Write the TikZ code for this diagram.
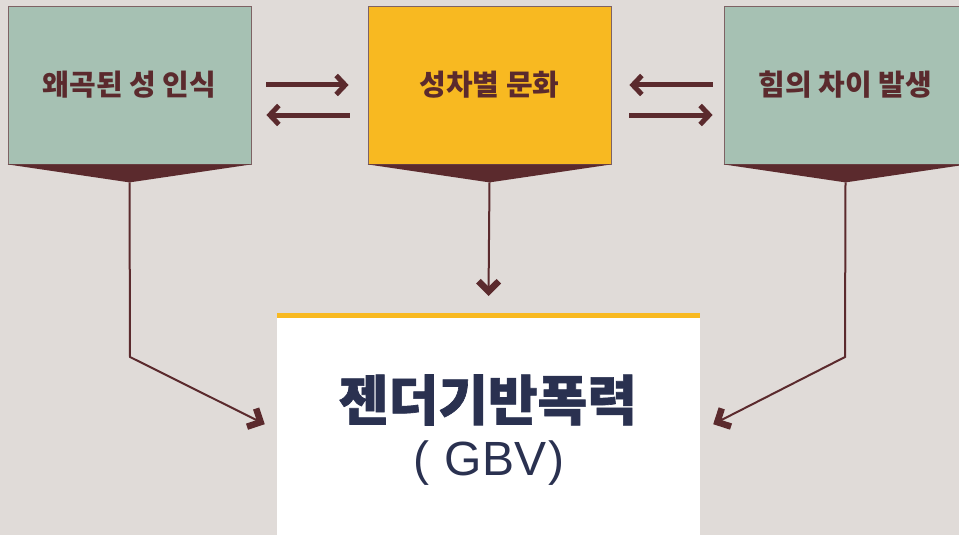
\documentclass[tikz,border=0pt]{standalone}
\usepackage{fontspec}
\setmainfont{Noto Sans CJK KR}
\newfontfamily\krheavy[FakeBold=1.2]{Noto Sans CJK KR}
\newfontfamily\latinfont{Liberation Sans}
\usetikzlibrary{arrows.meta,calc}
\definecolor{bgc}{HTML}{E0DBD8}
\definecolor{sage}{HTML}{A6C1B3}
\definecolor{gold}{HTML}{F8B921}
\definecolor{maroon}{HTML}{5B2A2D}
\definecolor{edgec}{HTML}{7E6264}
\definecolor{navy}{HTML}{2A3150}
\tikzset{
  box/.style={draw=edgec, line width=0.8pt, minimum width=243pt, minimum height=158pt,
    inner sep=0pt, text=maroon, font=\bfseries\fontsize{29}{32}\selectfont},
  wedge/.style={fill=maroon},
  thinline/.style={draw=maroon, line width=2pt},
  chevfill/.style={fill=maroon},
  bigarrow/.style={draw=maroon, line width=5pt,
    -{Straight Barb[length=9pt,width=19pt]}},
}
% filled chevron arrow head: tip #1, pointing away from #2
\newcommand\chevhead[2]{%
  \fill[chevfill] (#1)
    -- ($(#1)!12.5pt!(#2)!12.5pt!90:(#1)$)
    -- ($(#1)!17.1pt!(#2)!7.9pt!90:(#1)$)
    -- ($(#1)!9.2pt!(#2)$)
    -- ($(#1)!17.1pt!(#2)!7.9pt!-90:(#1)$)
    -- ($(#1)!12.5pt!(#2)!12.5pt!-90:(#1)$)
    -- cycle;}
\begin{document}
\begin{tikzpicture}[x=1pt,y=-1pt]
\useasboundingbox (0,0) rectangle (959,535);
\fill[bgc] (0,0) rectangle (959,535);

% top boxes
\node[box, fill=sage] (L) at (129.5,85) {왜곡된 성 인식};
\node[box, fill=gold] (M) at (489.5,85) {성차별 문화};
\node[box, fill=sage] (R) at (845.5,85) {힘의 차이 발생};

% wedges under boxes
\path (L.south) ++(0,18) coordinate (La);
\path (M.south) ++(0,18) coordinate (Ma);
\path (R.south) ++(0,18) coordinate (Ra);
\fill[wedge] (L.south west) -- (L.south east) -- (La) -- cycle;
\fill[wedge] (M.south west) -- (M.south east) -- (Ma) -- cycle;
\fill[wedge] (R.south west) -- (R.south east) -- (Ra) -- cycle;

% bottom box
\node[fill=white, minimum width=423pt, minimum height=222pt, inner sep=0pt, anchor=north] (G) at (488.5,313) {};
\fill[gold] (G.north west) rectangle ([yshift=-5pt]G.north east);
\node[font=\krheavy\bfseries\fontsize{54}{58}\selectfont, text=navy] (T1) at (488,400) {젠더기반폭력};
\node[font=\latinfont\fontsize{48}{52}\selectfont, text=navy] (T2) at (489,463) {(\kern15pt GBV\kern2pt)};

% horizontal double arrows
\draw[bigarrow] ([xshift=15pt]L.east) -- ([xshift=-19pt]M.west);
\draw[bigarrow] ([xshift=-18pt,yshift=-30pt]M.west) -- ([xshift=15pt,yshift=-30pt]L.east);
\draw[bigarrow] ([xshift=-11pt]R.west) -- ([xshift=18pt]M.east);
\draw[bigarrow] ([xshift=18pt,yshift=-30pt]M.east) -- ([xshift=-11pt,yshift=-30pt]R.west);

% connectors to GBV
\coordinate (Lb) at (130,357);
\coordinate (Rb) at (845,357);
\coordinate (Mt) at ([yshift=17pt]G.north);
\coordinate (Lt) at ([xshift=-12pt]G.west);
\coordinate (Rt) at ([xshift=13pt]G.east);
\draw[thinline] (Ma) -- ($(Mt)!7pt!(Ma)$);
\draw[thinline] (La) -- (Lb) -- ($(Lt)!7pt!(Lb)$);
\draw[thinline] (Ra) -- (Rb) -- ($(Rt)!7pt!(Rb)$);
\chevhead{Mt}{Ma}
\chevhead{Lt}{Lb}
\chevhead{Rt}{Rb}
\end{tikzpicture}
\end{document}
